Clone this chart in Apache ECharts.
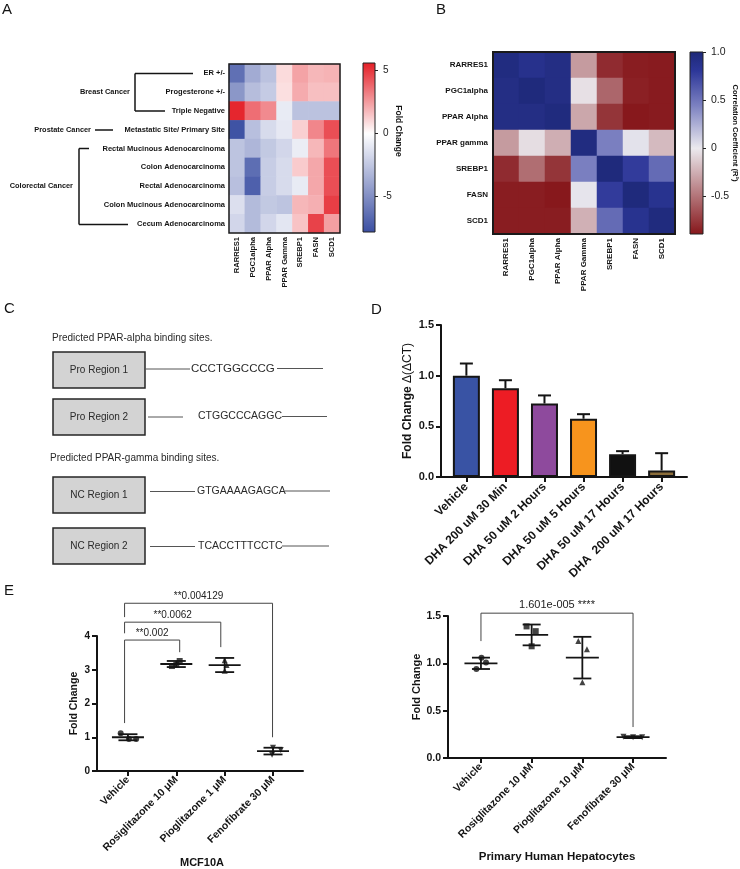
<!DOCTYPE html>
<html><head><meta charset="utf-8">
<script src="https://cdn.jsdelivr.net/npm/echarts@6/dist/echarts.min.js"></script>
<style>html,body{margin:0;padding:0;background:#fff}#c{width:740px;height:869px}</style>
</head><body><div id="c"></div>
<script>
// ---------------- DATA ----------------
// Panel A
const aGenes = ['RARRES1','PGC1alpha','PPAR Alpha','PPAR Gamma','SREBP1','FASN','SCD1'];
const aRows = ['ER +/-','Progesterone +/-','Triple Negative','Metastatic Site/ Primary Site','Rectal Mucinous Adenocarcinoma','Colon Adenocarcinoma','Rectal Adenocarcinoma','Colon Mucinous Adenocarcinoma','Cecum Adenocarcinoma'];
const aValues = [
  [-6.3,-3.7,-2.7, 0.9, 2.3, 1.8, 1.9],
  [-4.6,-2.9,-2.3, 0.8, 2.1, 1.6, 1.6],
  [ 5.4, 3.6, 2.9,-0.9,-2.7,-2.7,-2.7],
  [-7.6,-2.8,-1.6,-1.0, 1.2, 3.0, 4.4],
  [-2.6,-3.2,-2.4,-1.8,-0.8, 1.8, 3.4],
  [-2.6,-6.4,-2.2,-1.6, 1.3, 2.2, 4.4],
  [-2.8,-7.0,-2.2,-1.6,-0.9, 2.2, 4.4],
  [-1.4,-3.0,-2.4,-2.6, 1.8, 2.0, 4.8],
  [-1.8,-3.0,-1.8,-1.1, 1.5, 4.7, 2.4]
];
const aGroups = ['Breast Cancer','Prostate Cancer','Colorectal Cancer'];
const aMin = -7.8, aMax = 5.6;
const aTicks = [-5, 0, 5];
const aBarTitle = 'Fold Change';

// Panel B
const bRows = ['RARRES1','PGC1alpha','PPAR Alpha','PPAR gamma','SREBP1','FASN','SCD1'];
const bCols = ['RARRES1','PGC1alpha','PPAR Alpha','PPAR Gamma','SREBP1','FASN','SCD1'];
const bValues = [
  [ 0.95, 0.88, 0.92,-0.33,-0.80,-0.86,-0.87],
  [ 0.92, 0.97, 0.92,-0.04,-0.55,-0.85,-0.87],
  [ 0.92, 0.92, 0.96,-0.28,-0.76,-0.88,-0.87],
  [-0.33,-0.05,-0.25, 0.95, 0.45, 0.03,-0.20],
  [-0.80,-0.52,-0.76, 0.45, 0.97, 0.78, 0.55],
  [-0.86,-0.86,-0.88, 0.02, 0.78, 0.97, 0.86],
  [-0.86,-0.86,-0.86,-0.24, 0.55, 0.86, 0.96]
];
const bMin = -0.89, bMax = 1.0;
const bTicks = [-0.5, 0, 0.5, 1.0];
const bBarTitle = 'Correlation Coefficient (R²)';

// Panel C
const cHeadings = ['Predicted PPAR-alpha binding sites.','Predicted PPAR-gamma binding sites.'];
const cRegions = ['Pro Region 1','Pro Region 2','NC Region 1','NC Region 2'];
const cSequences = ['CCCTGGCCCG','CTGGCCCAGGC','GTGAAAAGAGCA','TCACCTTTCCTC'];

// Panel D
const dCats = ['Vehicle','DHA 200 uM 30 Min','DHA 50 uM 2 Hours','DHA 50 uM 5 Hours','DHA 50 uM 17 Hours','DHA  200 uM 17 Hours'];
const dMeans = [1.0, 0.875, 0.725, 0.575, 0.225, 0.065];
const dErr = [0.12, 0.08, 0.08, 0.045, 0.03, 0.17];

// Panel E (left: MCF10A)
const e1Cats = ['Vehicle','Rosiglitazone 10 μM','Pioglitazone 1 μM','Fenofibrate 30 μM'];
const e1Points = [[1.12,0.95,0.95],[3.11,3.15,3.26],[3.28,3.14,2.97],[0.69,0.62,0.48]];
const e1Jitter = [[-0.15,0.02,0.17],[-0.09,0.0,0.07],[0,0.04,0],[0,0.16,-0.02]];
const e1Mean = [1.0, 3.17, 3.14, 0.59];
const e1SD = [0.09, 0.09, 0.21, 0.10];
const e1Brackets = [[-0.07,1.07,3.88,1.42,3.52],[-0.07,1.92,4.41,4.08,3.67],[-0.07,2.99,4.97,4.56,1.0]];
const e1BracketLabels = ['**0.002','**0.0062','**0.004129'];
const e1Title = 'MCF10A';
// Panel E (right: hepatocytes)
const e2Cats = ['Vehicle','Rosiglitazone 10 μM','Pioglitazone 10 μM','Fenofibrate 30 μM'];
const e2Points = [[1.06,1.01,0.94],[1.39,1.34,1.18],[1.235,1.15,0.80],[0.225,0.218,0.22]];
const e2Jitter = [[0.01,0.1,-0.09],[-0.1,0.08,0],[-0.08,0.09,0],[-0.19,0,0.18]];
const e2Mean = [1.0, 1.30, 1.06, 0.22];
const e2SD = [0.06, 0.11, 0.22, 0.01];
const e2Brackets = [[0,3,1.53,1.235,0.327]];
const e2BracketLabels = ['1.601e-005 ****'];
const e2Title = 'Primary Human Hepatocytes';
const yAxisName = 'Fold Change';

// ---------------- STYLE / HELPERS ----------------
const FF = '"Liberation Sans", Arial, Helvetica, sans-serif';
const INK = '#141414';
const aStops = [[aMin,'#3a4ea2'],[0,'#ffffff'],[aMax,'#e41e26']];
const bStops = [[bMin,'#86161a'],[0,'#ebe9ee'],[0.45,'#7a7fc0'],[0.8,'#2d3799'],[bMax,'#1d2877']];
const dColors = ['#3953a4','#ed1c24','#8e4a9d','#f7941d','#111111','#8b6d3a'];
const eSymbols = ['circle','rect','triangle','triangle'];

function hex2rgb(h){return [parseInt(h.slice(1,3),16),parseInt(h.slice(3,5),16),parseInt(h.slice(5,7),16)];}
function colorAt(stops,v){
  if(v<=stops[0][0]) return stops[0][1];
  for(let i=1;i<stops.length;i++){
    if(v<=stops[i][0]){
      const t=(v-stops[i-1][0])/(stops[i][0]-stops[i-1][0]);
      const a=hex2rgb(stops[i-1][1]), b=hex2rgb(stops[i][1]);
      return 'rgb('+a.map((x,k)=>Math.round(x+(b[k]-x)*t)).join(',')+')';
    }
  }
  return stops[stops.length-1][1];
}
function ramp(stops,min,max,n){const o=[];for(let i=0;i<n;i++)o.push(colorAt(stops,min+(max-min)*i/(n-1)));return o;}
function grad(stops,min,max,n){const o=[];for(let i=0;i<n;i++){const v=max-(max-min)*i/(n-1);o.push({offset:i/(n-1),color:colorAt(stops,v)});}return {type:'linear',x:0,y:0,x2:0,y2:1,colorStops:o};}

const aData=[]; aValues.forEach((r,i)=>r.forEach((v,j)=>aData.push([j,i,v])));
const bData=[]; bValues.forEach((r,i)=>r.forEach((v,j)=>bData.push([j,i,v])));

function errRender(half){return (p,api)=>{const x=api.value(0);const a=api.coord([x,api.value(1)]),b=api.coord([x,api.value(2)]);const st={stroke:INK,lineWidth:2};
  return {type:'group',children:[{type:'line',shape:{x1:a[0],y1:a[1],x2:b[0],y2:b[1]},style:st},{type:'line',shape:{x1:b[0]-half,y1:b[1],x2:b[0]+half,y2:b[1]},style:st}]};};}
function meanSdRender(hm,hc){return (p,api)=>{const x=api.value(0),m=api.value(1),s=api.value(2);
  const c=api.coord([x,m]),t=api.coord([x,m+s]),b=api.coord([x,m-s]);const st={stroke:INK,lineWidth:1.8};
  return {type:'group',children:[
    {type:'line',shape:{x1:c[0]-hm,y1:c[1],x2:c[0]+hm,y2:c[1]},style:st},
    {type:'line',shape:{x1:t[0],y1:t[1],x2:b[0],y2:b[1]},style:st},
    {type:'line',shape:{x1:t[0]-hc,y1:t[1],x2:t[0]+hc,y2:t[1]},style:st},
    {type:'line',shape:{x1:b[0]-hc,y1:b[1],x2:b[0]+hc,y2:b[1]},style:st}]};};}
function bracketRender(labels,font,gap){return (p,api)=>{const x0=api.value(0),x1=api.value(1),top=api.value(2),l=api.value(3),r=api.value(4);
  const A=api.coord([x0,l]),B=api.coord([x0,top]),C=api.coord([x1,top]),D=api.coord([x1,r]);
  return {type:'group',children:[
    {type:'polyline',shape:{points:[A,B,C,D]},style:{stroke:'#444',lineWidth:1,fill:'none'}},
    {type:'text',x:(B[0]+C[0])/2,y:B[1]-gap,style:{text:labels[p.dataIndex],font:font,fill:'#222',align:'center',verticalAlign:'bottom'}}]};};}
function scatterData(points,jit){const o=[];points.forEach((arr,i)=>arr.forEach((v,j)=>o.push({value:[i+jit[i][j],v],symbol:eSymbols[i],symbolRotate:i===3?180:0})));return o;}

// graphic helpers
const G=[];
function txt(x,y,text,font,o){o=o||{};G.push({type:'text',x:x,y:y,rotation:o.rot||0,z:100,style:{text:text,font:font,fill:o.fill||INK,align:o.align||'left',verticalAlign:o.va||'middle'}});}
function ln(x1,y1,x2,y2,w,c){G.push({type:'line',z:100,shape:{x1:x1,y1:y1,x2:x2,y2:y2},style:{stroke:c||INK,lineWidth:w||1}});}
function rc(x,y,w,h,style){G.push({type:'rect',z:99,shape:{x:x,y:y,width:w,height:h},style:style});}

// panel letters
const L='15px '+FF;
txt(2,10,'A',L); txt(436,10,'B',L); txt(4,309,'C',L); txt(371,310,'D',L); txt(4,591,'E',L);

// Panel A decorations
const bA='bold 7.4px '+FF;
ln(135,73.4,135,111,1.5); ln(135,73.4,193,73.4,1.5); ln(135,111,165,111,1.5);
txt(130,92,aGroups[0],bA,{align:'right'});
ln(95,130,113,130,1.5);
txt(91,130,aGroups[1],bA,{align:'right'});
ln(79,148.5,79,224.5,1.5); ln(79,148.5,89,148.5,1.5); ln(79,224.5,128,224.5,1.5);
txt(73,186,aGroups[2],bA,{align:'right'});
rc(229,64,111,169,{fill:'none',stroke:'#1a1a1a',lineWidth:1.5});
rc(363,63,12,169,{fill:grad(aStops,aMin,aMax,120),stroke:'#222',lineWidth:1});
txt(398,131,aBarTitle,'bold 8.5px '+FF,{align:'center',rot:-Math.PI/2});
// Panel B decorations
rc(493,52,182,182,{fill:'none',stroke:'#1a1a1a',lineWidth:2});
rc(690,52,13,182,{fill:grad(bStops,bMin,bMax,120),stroke:'#222',lineWidth:1});
txt(735,133,bBarTitle,'bold 7.6px '+FF,{align:'center',rot:-Math.PI/2});

// Panel C
const cF='10px '+FF, cCol='#2a2a2a';
txt(52,338,cHeadings[0],cF,{fill:cCol});
txt(50,458,cHeadings[1],cF,{fill:cCol});
const cBoxTop=[352,399,477,528];
const cLineY=[369,417,491.5,546.5];
const cL1=[[145,190],[148,183],[150,195],[150,195]];
const cTx=[191,198,197,198];
const cL2=[[277,323],[282,327],[285,330],[282,329]];
const cSeqFont=['11.5px '+FF,'10.5px '+FF,'10.5px '+FF,'10.5px '+FF];
for(let i=0;i<4;i++){
  rc(53,cBoxTop[i],92,36,{fill:'#d3d3d3',stroke:'#262626',lineWidth:1.5});
  txt(99,cBoxTop[i]+18.5,cRegions[i],cF,{align:'center',fill:cCol});
  ln(cL1[i][0],cLineY[i],cL1[i][1],cLineY[i],1,'#555');
  txt(cTx[i],cLineY[i]-0.5,cSequences[i],cSeqFont[i],{fill:cCol});
  ln(cL2[i][0],cLineY[i]-0.5,cL2[i][1],cLineY[i]-0.5,1,'#555');
}
// Panel E axis titles
txt(202,863,e1Title,'bold 11px '+FF,{align:'center'});
txt(557,857,e2Title,'bold 11.5px '+FF,{align:'center'});

// ---------------- OPTION ----------------
const noAxis={axisLine:{show:false},axisTick:{show:false},splitLine:{show:false}};
function barAxis(min,max,ticks,fs,margin){return {type:'value',min:min,max:max,position:'right',axisLine:{show:false,onZero:false},
  axisTick:{show:true,customValues:ticks,length:3,lineStyle:{color:'#222'}},
  axisLabel:{customValues:ticks,margin:margin,fontSize:fs,color:'#222',fontFamily:FF,formatter:v=>(v!==0&&Number.isInteger(v)&&ticks.some(t=>!Number.isInteger(t)))?v.toFixed(1):String(v)},splitLine:{show:false}};}
function valX(min,max,cats,fs,margin){const idx=cats.map((_,i)=>i);return {type:'value',min:min,max:max,
  axisLine:{show:true,onZero:false,lineStyle:{color:INK,width:2}},
  axisTick:{show:true,customValues:idx,length:5,lineStyle:{color:INK,width:2}},
  axisLabel:{customValues:idx,formatter:v=>cats[Math.round(v)],rotate:45,margin:margin,fontSize:fs,fontWeight:'bold',color:INK,fontFamily:FF},splitLine:{show:false}};}
function valY(min,max,interval,fs,fmt,name,nameGap,nameFs){return {type:'value',min:min,max:max,interval:interval,
  axisLine:{show:true,onZero:false,lineStyle:{color:INK,width:2}},
  axisTick:{show:true,length:5,lineStyle:{color:INK,width:2}},
  axisLabel:{formatter:fmt,fontSize:fs,fontWeight:'bold',margin:7,color:INK,fontFamily:FF},splitLine:{show:false},
  name:name,nameLocation:'middle',nameGap:nameGap,nameTextStyle:{fontSize:nameFs,fontWeight:'bold',color:INK,fontFamily:FF}};}

const dY=valY(0,1.5,0.5,11,v=>v.toFixed(1),'{b|Fold Change} {r|Δ(ΔCT)}',27,12);
dY.nameTextStyle={rich:{b:{fontSize:12,fontWeight:'bold',color:INK,fontFamily:FF},r:{fontSize:12,color:INK,fontFamily:FF}}};

const option={
  animation:false,backgroundColor:'#fff',textStyle:{fontFamily:FF},
  grid:[
    {left:229,top:64,width:111,height:169,outerBoundsMode:'none'},
    {left:363,top:63,width:12,height:169,outerBoundsMode:'none'},
    {left:493,top:52,width:182,height:182,outerBoundsMode:'none'},
    {left:690,top:52,width:13,height:182,outerBoundsMode:'none'},
    {left:441,top:325,width:246,height:152,outerBoundsMode:'none'},
    {left:97,top:636,width:206,height:135,outerBoundsMode:'none'},
    {left:448,top:616,width:218,height:142,outerBoundsMode:'none'}
  ],
  xAxis:[
    Object.assign({gridIndex:0,type:'category',data:aGenes,position:'bottom',axisLabel:{interval:0,rotate:90,margin:4,fontSize:7.6,fontWeight:'bold',color:INK,fontFamily:FF}},noAxis),
    {gridIndex:1,type:'value',show:false,min:0,max:1},
    Object.assign({gridIndex:2,type:'category',data:bCols,position:'bottom',axisLabel:{interval:0,rotate:90,margin:4,fontSize:8,fontWeight:'bold',color:INK,fontFamily:FF}},noAxis),
    {gridIndex:3,type:'value',show:false,min:0,max:1},
    Object.assign({gridIndex:4},valX(-0.65,5.65,dCats,12,8)),
    Object.assign({gridIndex:5},valX(-0.64,3.62,e1Cats,10.5,7)),
    Object.assign({gridIndex:6},valX(-0.65,3.65,e2Cats,10.5,7))
  ],
  yAxis:[
    Object.assign({gridIndex:0,type:'category',data:aRows,inverse:true,axisLabel:{interval:0,margin:4,fontSize:7.5,fontWeight:'bold',color:INK,fontFamily:FF}},noAxis),
    Object.assign({gridIndex:1},barAxis(aMin,aMax,aTicks,10,8)),
    Object.assign({gridIndex:2,type:'category',data:bRows,inverse:true,axisLabel:{interval:0,margin:5,fontSize:8,fontWeight:'bold',color:INK,fontFamily:FF}},noAxis),
    Object.assign({gridIndex:3},barAxis(bMin,bMax,bTicks,10.5,8)),
    Object.assign({gridIndex:4},dY),
    Object.assign({gridIndex:5},valY(0,4,1,10,v=>String(v),yAxisName,17,10.5)),
    Object.assign({gridIndex:6},valY(0,1.5,0.5,10.5,v=>v.toFixed(1),yAxisName,25,11))
  ],
  visualMap:[
    {type:'continuous',show:false,seriesIndex:0,dimension:2,min:aMin,max:aMax,inRange:{color:ramp(aStops,aMin,aMax,135)}},
    {type:'continuous',show:false,seriesIndex:1,dimension:2,min:bMin,max:bMax,inRange:{color:ramp(bStops,bMin,bMax,135)}}
  ],
  series:[
    {type:'heatmap',xAxisIndex:0,yAxisIndex:0,data:aData,emphasis:{disabled:true},itemStyle:{borderWidth:0}},
    {type:'heatmap',xAxisIndex:2,yAxisIndex:2,data:bData,emphasis:{disabled:true},itemStyle:{borderWidth:0}},
    {type:'bar',xAxisIndex:4,yAxisIndex:4,barWidth:27,z:3,
      data:dMeans.map((m,i)=>({value:[i,m],itemStyle:{color:dColors[i]}})),itemStyle:{borderColor:'#151515',borderWidth:2}},
    {type:'custom',xAxisIndex:4,yAxisIndex:4,z:2,data:dMeans.map((m,i)=>[i,m,m+dErr[i]]),renderItem:errRender(6.5)},
    {type:'custom',xAxisIndex:5,yAxisIndex:5,z:2,data:e1Mean.map((m,i)=>[i,m,e1SD[i]]),renderItem:meanSdRender(16,9.5)},
    {type:'scatter',xAxisIndex:5,yAxisIndex:5,z:3,symbolSize:6,itemStyle:{color:INK},data:scatterData(e1Points,e1Jitter)},
    {type:'custom',xAxisIndex:5,yAxisIndex:5,z:2,data:e1Brackets,renderItem:bracketRender(e1BracketLabels,'10px '+FF,2)},
    {type:'custom',xAxisIndex:6,yAxisIndex:6,z:2,data:e2Mean.map((m,i)=>[i,m,e2SD[i]]),renderItem:meanSdRender(16.5,9)},
    {type:'scatter',xAxisIndex:6,yAxisIndex:6,z:3,symbolSize:6,itemStyle:{color:INK},data:scatterData(e2Points,e2Jitter)},
    {type:'custom',xAxisIndex:6,yAxisIndex:6,z:2,data:e2Brackets,renderItem:bracketRender(e2BracketLabels,'11px '+FF,3)}
  ],
  graphic:G
};
const chart=echarts.init(document.getElementById('c'),null,{renderer:'canvas',width:740,height:869});
chart.setOption(option);
</script></body></html>
